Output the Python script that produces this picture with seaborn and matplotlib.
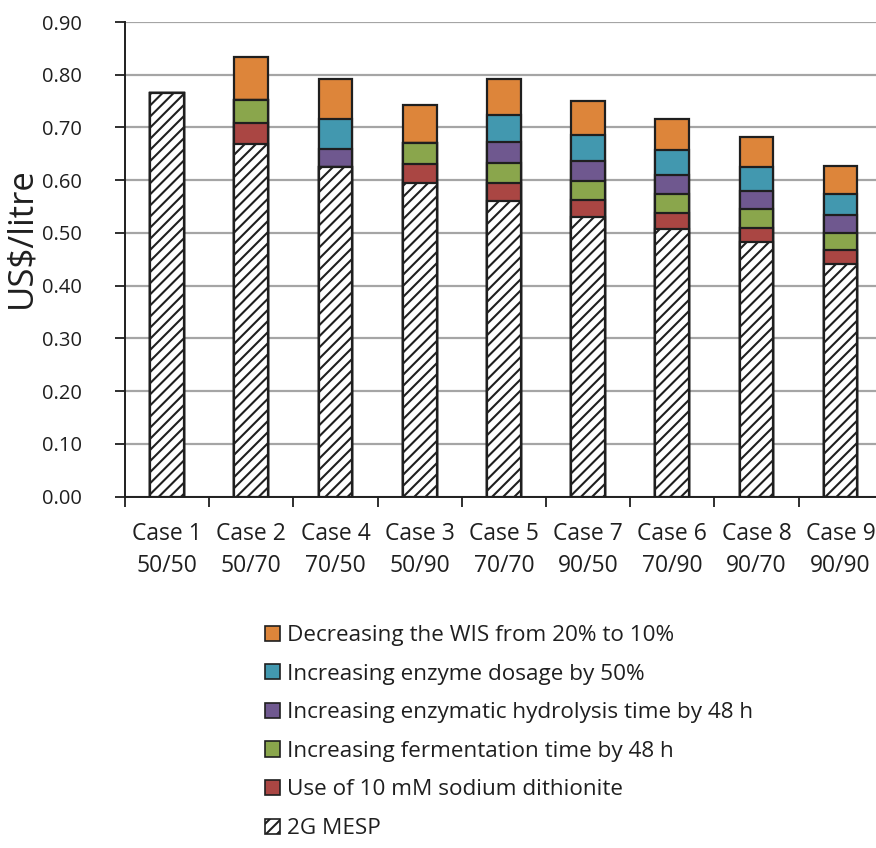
import numpy as np
import pandas as pd
import matplotlib
matplotlib.use("Agg")
import matplotlib.pyplot as plt
from matplotlib.patches import Patch
from matplotlib.ticker import MultipleLocator, FixedLocator, FormatStrFormatter
import seaborn as sns

# Cases (pretreatment severity / hydrolysis condition)
cases = ["Case 1\n50/50", "Case 2\n50/70", "Case 4\n70/50", "Case 3\n50/90",
         "Case 5\n70/70", "Case 7\n90/50", "Case 6\n70/90", "Case 8\n90/70",
         "Case 9\n90/90"]

# Minimum ethanol selling price and the cost contributions on top of it (US$/litre)
mesp_2g      = [0.765, 0.668, 0.625, 0.595, 0.561, 0.530, 0.508, 0.483, 0.442]
dithionite   = [0.000, 0.041, 0.000, 0.035, 0.033, 0.032, 0.029, 0.027, 0.026]
fermentation = [0.000, 0.043, 0.000, 0.041, 0.038, 0.037, 0.036, 0.035, 0.032]
hydrolysis   = [0.000, 0.000, 0.034, 0.000, 0.040, 0.038, 0.036, 0.035, 0.034]
enzyme       = [0.000, 0.000, 0.058, 0.000, 0.051, 0.048, 0.048, 0.045, 0.040]
wis          = [0.000, 0.081, 0.075, 0.071, 0.069, 0.065, 0.060, 0.057, 0.053]

labels = {
    "wis": "Decreasing the WIS from 20% to 10%",
    "enzyme": "Increasing enzyme dosage by 50%",
    "hydrolysis": "Increasing enzymatic hydrolysis time by 48 h",
    "fermentation": "Increasing fermentation time by 48 h",
    "dithionite": "Use of 10 mM sodium dithionite",
    "mesp": "2G MESP",
}
colors = {
    "wis": "#DD853A",
    "enzyme": "#4298AF",
    "hydrolysis": "#6F588F",
    "fermentation": "#8AA64C",
    "dithionite": "#AA4643",
}

df = pd.DataFrame({
    "case": cases,
    "mesp": mesp_2g,
    "dithionite": dithionite,
    "fermentation": fermentation,
    "hydrolysis": hydrolysis,
    "enzyme": enzyme,
    "wis": wis,
})

# Cumulative heights, so each layer is drawn from the axis up to its top
stack_order = ["mesp", "dithionite", "fermentation", "hydrolysis", "enzyme", "wis"]
cum = df[stack_order].cumsum(axis=1)

sns.set_theme(style="white")
plt.rcParams["font.family"] = ["Open Sans", "DejaVu Sans"]
plt.rcParams["hatch.linewidth"] = 1.5
plt.rcParams["hatch.color"] = "#1a1a1a"

ink = "#1f1f1f"
fig = plt.figure(figsize=(8.76, 8.48), dpi=100)
ax = fig.add_axes([125 / 876, 1 - 496.7 / 848, 1 - 125 / 876, (496.7 - 22) / 848])

bar_w = 0.4
edge_lw = 1.6
for key in ["wis", "enzyme", "hydrolysis", "fermentation", "dithionite"]:
    sns.barplot(x=df["case"], y=cum[key], color=colors[key], width=bar_w,
                edgecolor=ink, linewidth=edge_lw, saturation=1, ax=ax,
                zorder=3)
sns.barplot(x=df["case"], y=cum["mesp"], color="white", width=bar_w,
            edgecolor=ink, linewidth=edge_lw, saturation=1, ax=ax,
            hatch="///", zorder=3)

ax.set_ylim(0, 0.90)
ax.set_xlim(-0.5, 8.42)
ax.yaxis.set_major_locator(MultipleLocator(0.10))
ax.yaxis.set_major_formatter(FormatStrFormatter("%.2f"))
ax.grid(axis="y", color="#A5A5A5", linewidth=1.6, zorder=0)
ax.set_axisbelow(True)

for s in ["top", "right"]:
    ax.spines[s].set_visible(False)
for s in ["left", "bottom"]:
    ax.spines[s].set_color(ink)
    ax.spines[s].set_linewidth(1.4)

ax.set_xlabel("")
ax.set_ylabel("US$/litre", fontsize=25, color=ink)
ax.yaxis.set_label_coords(-0.115, 0.545)
ax.tick_params(axis="y", which="major", left=True, length=7, width=1.3,
               color=ink, labelsize=14.5, pad=24, labelcolor=ink)
ax.tick_params(axis="x", which="major", bottom=False, labelsize=16.5, pad=12,
               labelcolor=ink)
ax.xaxis.set_minor_locator(FixedLocator(np.arange(-0.5, 8.0, 1.0)))
ax.tick_params(axis="x", which="minor", bottom=True, length=7, width=1.3,
               color=ink)
for t in ax.get_xticklabels():
    t.set_linespacing(1.45)

handles = [Patch(facecolor=colors[k], edgecolor=ink, linewidth=1.2,
                 label=labels[k])
           for k in ["wis", "enzyme", "hydrolysis", "fermentation", "dithionite"]]
handles.append(Patch(facecolor="white", edgecolor=ink, linewidth=1.2,
                     hatch="///", label=labels["mesp"]))
fig.legend(handles=handles, loc="upper left",
           bbox_to_anchor=(245 / 876, 1 - 605 / 848), frameon=False,
           fontsize=16.2, handlelength=0.65, handleheight=0.65,
           handletextpad=0.3, labelspacing=0.78, labelcolor=ink)

fig.savefig("out.png", dpi=100)
